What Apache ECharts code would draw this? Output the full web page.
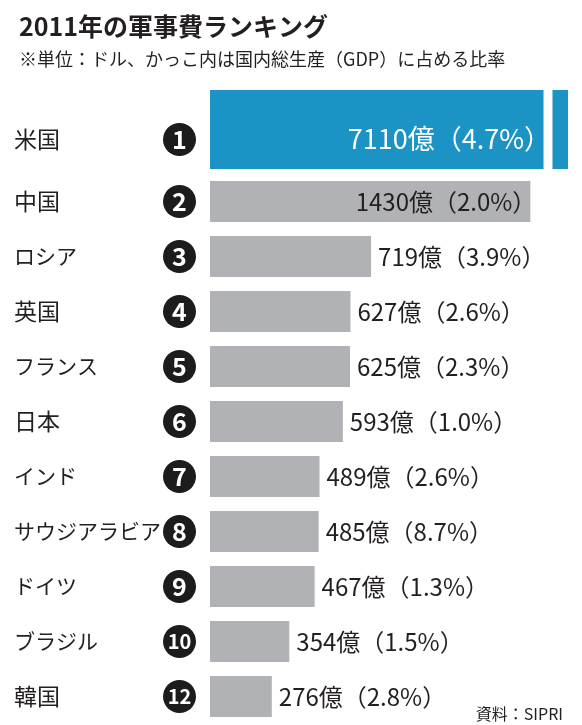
<!DOCTYPE html>
<html>
<head>
<meta charset="utf-8">
<script src="https://cdn.jsdelivr.net/npm/echarts@6/dist/echarts.min.js"></script>
<style>
html,body{margin:0;padding:0;background:#fff;}
#c{width:582px;height:725px;}
</style>
</head>
<body>
<div id="c"></div>
<script>
const countries = ['米国','中国','ロシア','英国','フランス','日本','インド','サウジアラビア','ドイツ','ブラジル','韓国'];
const ranks = [1,2,3,4,5,6,7,8,9,10,12];
const spending = [7110,1430,719,627,625,593,489,485,467,354,276];
const gdpShare = [4.7,2.0,3.9,2.6,2.3,1.0,2.6,8.7,1.3,1.5,2.8];
const titleText = '2011年の軍事費ランキング';
const subtitleText = '※単位：ドル、かっこ内は国内総生産（GDP）に占める比率';
const sourceText = '資料：SIPRI';

const FONT = '"Noto Sans CJK JP", "Noto Sans", sans-serif';
const TXT = '#231f20';
const rankOf = {};
countries.forEach((c, i) => { rankOf[c] = ranks[i]; });

function fmt(v, p) { return v + '億（' + p.toFixed(1) + '%）'; }

const circleBase = { width: 33, height: 33, lineHeight: 33, borderRadius: 17, backgroundColor: '#1c1c1c',
  color: '#fff', fontWeight: 'bold', align: 'center', fontFamily: FONT };
const rich = {
  name: { fontSize: 23, width: 149, align: 'left', color: TXT, fontFamily: FONT },
  kana: { fontSize: 21, width: 149, align: 'left', color: TXT, fontFamily: FONT },
  c1: Object.assign({ fontSize: 25 }, circleBase),
  c2: Object.assign({ fontSize: 20 }, circleBase)
};
function yLabel(v) {
  const r = rankOf[v];
  const style = /[\u30A0-\u30FF]/.test(v) ? 'kana' : 'name';
  return '{' + style + '|' + v + '}{' + (r >= 10 ? 'c2' : 'c1') + '|' + r + '}';
}

const topNames = countries.slice(0, 1);
const restNames = countries.slice(1);

const hiddenX = { axisLine: { show: false }, axisTick: { show: false }, axisLabel: { show: false }, splitLine: { show: false } };

const chart = echarts.init(document.getElementById('c'));
chart.setOption({
  animation: false,
  backgroundColor: '#fff',
  title: [
    { text: titleText, left: 14, top: 9, textStyle: { fontSize: 25, fontWeight: 'bold', color: TXT, fontFamily: FONT } },
    { text: subtitleText, left: 14, top: 45, textStyle: { fontSize: 18, fontWeight: 'normal', color: TXT, fontFamily: FONT } },
    { text: sourceText, right: 14, bottom: -2, textStyle: { fontSize: 16, fontWeight: 'normal', color: TXT, fontFamily: FONT } }
  ],
  grid: [
    { left: 210, right: 14, top: 90, height: 79 },
    { left: 210, right: 14, top: 174, height: 550 }
  ],
  xAxis: [
    Object.assign({
      type: 'value', gridIndex: 0, min: 0, max: 7110,
      breaks: [{ start: 1487, end: 7039, gap: 40 }],
      breakArea: { show: true, expandOnClick: false, zigzagAmplitude: 0,
        itemStyle: { color: '#fff', borderColor: '#fff', borderWidth: 0, opacity: 1 } }
    }, hiddenX),
    Object.assign({ type: 'value', gridIndex: 1, min: 0, max: 1598 }, hiddenX)
  ],
  yAxis: [
    { type: 'category', gridIndex: 0, data: topNames, inverse: true,
      axisLine: { show: false }, axisTick: { show: false },
      axisLabel: { align: 'left', margin: 196, formatter: yLabel, rich: rich, padding: [20, 0, 0, 0] } },
    { type: 'category', gridIndex: 1, data: restNames, inverse: true,
      axisLine: { show: false }, axisTick: { show: false },
      axisLabel: { align: 'left', margin: 196, formatter: yLabel, rich: rich } }
  ],
  series: [
    { type: 'bar', xAxisIndex: 0, yAxisIndex: 0, barWidth: '100%',
      itemStyle: { color: '#1b93c4' },
      label: { show: true, position: 'insideRight', distance: 17, offset: [0, 9],
        color: '#fff', fontSize: 27, fontFamily: FONT,
        formatter: (p) => fmt(spending[0], gdpShare[0]) },
      data: spending.slice(0, 1) },
    { type: 'bar', xAxisIndex: 1, yAxisIndex: 1, barWidth: 41,
      itemStyle: { color: '#b1b2b6' },
      label: { show: true, position: 'right', distance: 7, color: TXT, fontSize: 24, fontFamily: FONT,
        formatter: (p) => fmt(spending[p.dataIndex + 1], gdpShare[p.dataIndex + 1]) },
      data: spending.slice(1).map((v, i) => i === 0
        ? { value: v, label: { position: 'insideRight', distance: 0, offset: [6, 0] } }
        : v) }
  ]
});
</script>
</body>
</html>
